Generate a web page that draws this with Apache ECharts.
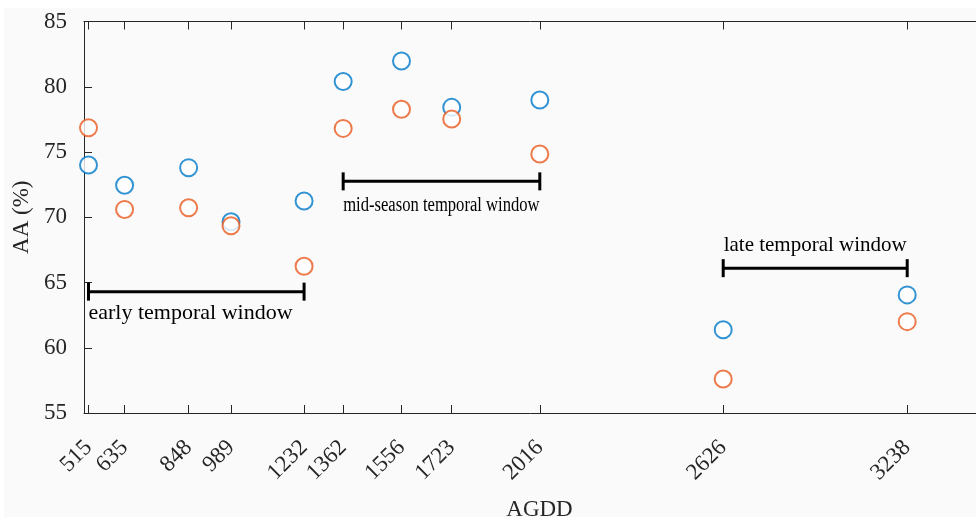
<!DOCTYPE html>
<html><head><meta charset="utf-8">
<script src="https://cdn.jsdelivr.net/npm/echarts@6/dist/echarts.min.js"></script>
<style>html,body{margin:0;padding:0;background:#fff;}#c{width:976px;height:517px;}</style>
</head><body><div id="c"></div>
<script>
const agdd = [515, 635, 848, 989, 1232, 1362, 1556, 1723, 2016, 2626, 3238];
const blueAA = [74.0, 72.45, 73.8, 69.65, 71.25, 80.4, 81.97, 78.42, 78.98, 61.38, 64.05];
const orangeAA = [76.86, 70.6, 70.73, 69.35, 66.25, 76.81, 78.28, 77.53, 74.85, 57.6, 62.0];
const windowNames = ['early temporal window', 'mid-season temporal window', 'late temporal window'];
const windowStart = [515, 1362, 2626];
const windowEnd = [1232, 2016, 3238];
const windowY = [64.3, 72.75, 66.1];
const yTicks = [55, 60, 65, 70, 75, 80, 85];

const FONT = 'Liberation Serif';
const TXT = '#262626';
const chart = echarts.init(document.getElementById('c'));

const series = [
  {type: 'scatter', name: 'blue', data: agdd.map((x, i) => [x, blueAA[i]]), symbol: 'emptyCircle', symbolSize: 17,
   itemStyle: {color: '#0079c9', borderColor: '#0079c9', borderWidth: 2.4}, z: 2},
  {type: 'scatter', name: 'orange', data: agdd.map((x, i) => [x, orangeAA[i]]), symbol: 'emptyCircle', symbolSize: 17,
   itemStyle: {color: '#e85a1f', borderColor: '#e85a1f', borderWidth: 2.4}, z: 3}
];
windowNames.forEach((n, i) => {
  series.push({type: 'line', data: [[windowStart[i], windowY[i]], [windowEnd[i], windowY[i]]],
    symbol: 'rect', symbolSize: [3, 18], showSymbol: true, itemStyle: {color: '#000'},
    lineStyle: {color: '#000', width: 3}, silent: true, animation: false, z: 4});
});

chart.setOption({
  animation: false,
  grid: {left: 84, top: 21.5, width: 911, height: 391.5, containLabel: false, outerBoundsMode: 'none'},
  xAxis: [{
    type: 'value', min: 500, max: 3530, position: 'bottom',
    name: 'AGDD', nameLocation: 'middle', nameGap: 85,
    nameTextStyle: {fontFamily: FONT, fontSize: 23, color: TXT},
    axisLine: {show: true, lineStyle: {color: TXT, width: 1}},
    axisTick: {show: true, inside: true, length: 8, customValues: agdd, lineStyle: {color: TXT}},
    axisLabel: {show: true, customValues: agdd, rotate: 45, margin: 31, fontFamily: FONT, fontSize: 23, color: TXT,
      formatter: v => String(v)},
    splitLine: {show: false}
  }, {
    type: 'value', min: 500, max: 3530, position: 'top',
    axisLine: {show: true, lineStyle: {color: TXT, width: 1}},
    axisTick: {show: true, inside: true, length: 8, customValues: agdd, lineStyle: {color: TXT}},
    axisLabel: {show: false}, splitLine: {show: false}
  }],
  yAxis: [{
    type: 'value', min: 55, max: 85, interval: 5,
    name: 'AA (%)', nameLocation: 'middle', nameGap: 49,
    nameTextStyle: {fontFamily: FONT, fontSize: 23, color: TXT},
    axisLine: {show: true, lineStyle: {color: TXT, width: 1}},
    axisTick: {show: true, inside: true, length: 8, lineStyle: {color: TXT}},
    axisLabel: {margin: 17, fontFamily: FONT, fontSize: 23, color: TXT},
    splitLine: {show: false}
  }],
  series: series
});

const g = [{type: 'rect', shape: {x: 4, y: 8, width: 972, height: 509}, style: {fill: '#fafafa'}, z: -10, silent: true}];
const px = v => chart.convertToPixel({xAxisIndex: 0, yAxisIndex: 0}, v);
const p0 = px([windowStart[0], windowY[0]]);
g.push({type: 'text', x: p0[0], y: p0[1] + 22, style: {text: windowNames[0], font: '22px "' + FONT + '"', fill: '#000', textAlign: 'left', textVerticalAlign: 'middle'}});
const p1 = px([windowStart[1], windowY[1]]);
g.push({type: 'text', x: p1[0], y: p1[1] + 24, scaleX: 0.83, style: {text: windowNames[1], font: '20px "' + FONT + '"', fill: '#000', textAlign: 'left', textVerticalAlign: 'middle'}});
const p2 = px([windowStart[2], windowY[2]]);
const p2e = px([windowEnd[2], windowY[2]]);
g.push({type: 'text', x: (p2[0] + p2e[0]) / 2, y: p2[1] - 23, style: {text: windowNames[2], font: '21px "' + FONT + '"', fill: '#000', textAlign: 'center', textVerticalAlign: 'middle'}});
chart.setOption({graphic: g});
</script></body></html>
